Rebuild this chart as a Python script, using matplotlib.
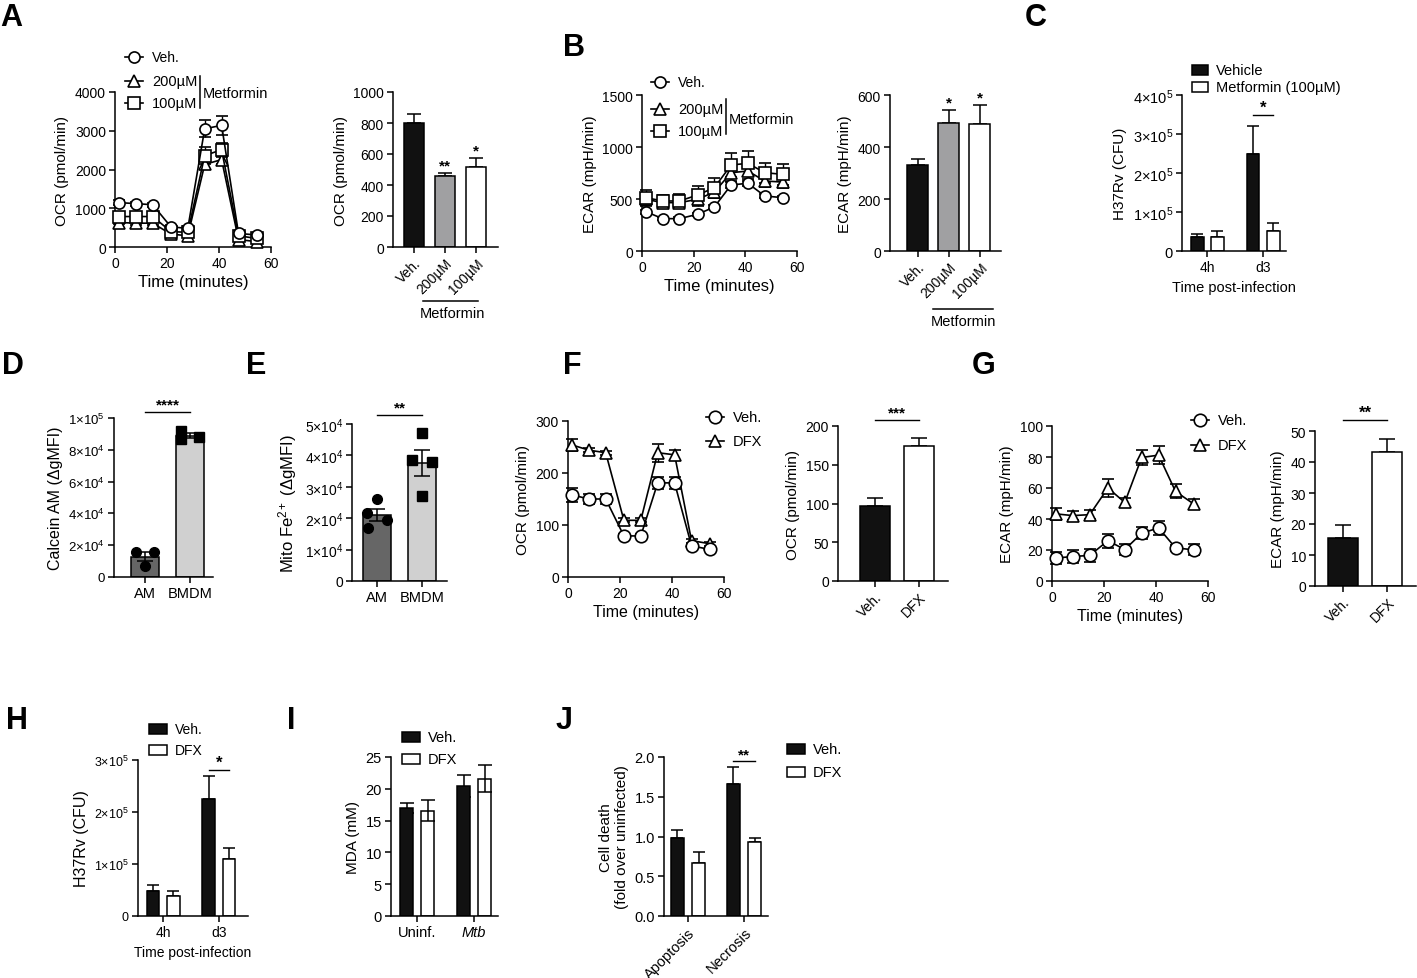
import numpy as np
import matplotlib
matplotlib.use("Agg")
import matplotlib.pyplot as plt
from matplotlib.patches import Rectangle
from matplotlib.ticker import FuncFormatter

plt.rcParams["font.family"] = ["Liberation Sans", "DejaVu Sans"]
plt.rcParams["mathtext.fontset"] = "custom"
plt.rcParams["mathtext.rm"] = "Liberation Sans"
plt.rcParams["mathtext.it"] = "Liberation Sans:italic"
plt.rcParams["axes.linewidth"] = 1.1

W, H = 1417, 979

# ---------------- data ----------------
t_min = [1.5, 8, 14.5, 21.5, 28, 34.5, 41, 47.5, 54.5]

# A - OCR kinetics (Metformin)
ocr_veh = [1145, 1120, 1090, 520, 480, 3050, 3140, 350, 310]
ocr_veh_err = [60, 50, 50, 60, 50, 215, 240, 60, 40]
ocr_200 = [632, 615, 615, 333, 290, 2130, 2256, 190, 140]
ocr_200_err = [50, 40, 40, 40, 40, 120, 110, 40, 30]
ocr_100 = [786, 786, 786, 400, 376, 2360, 2510, 290, 220]
ocr_100_err = [70, 60, 60, 50, 40, 220, 180, 50, 40]
met_labels = ["Veh.", "200µM", "100µM"]
ocr_bar = [800, 455, 515]
ocr_bar_err = [57, 22, 60]

# B - ECAR kinetics (Metformin)
ecar_veh = [378, 311, 311, 353, 423, 635, 651, 529, 513]
ecar_veh_err = [20, 15, 15, 15, 20, 25, 25, 20, 15]
ecar_200 = [497, 465, 465, 497, 567, 753, 769, 673, 663]
ecar_200_err = [60, 50, 55, 60, 60, 80, 80, 60, 55]
ecar_100 = [513, 481, 481, 538, 609, 827, 843, 753, 737]
ecar_100_err = [75, 60, 65, 85, 95, 115, 120, 95, 100]
ecar_bar = [331, 494, 488]
ecar_bar_err = [22, 47, 73]

# C - CFU, Metformin
time_labels = ["4h", "d3"]
cfu_c_vehicle = [36800, 248000]
cfu_c_vehicle_err = [7700, 72600]
cfu_c_met = [35900, 51300]
cfu_c_met_err = [15400, 19700]

# D - Calcein AM
cell_labels = ["AM", "BMDM"]
calcein_am = [15900, 15500, 6900]
calcein_bmdm = [92000, 86500, 88000]

# E - Mito Fe2+
fe_am = [26000, 21700, 19300, 16800]
fe_bmdm = [47100, 38400, 37800, 27200]

# F - OCR, DFX
dfx_labels = ["Veh.", "DFX"]
ocr_f_veh = [158, 150, 150, 79, 79, 181, 181, 60, 53]
ocr_f_veh_err = [13, 10, 10, 4, 4, 12, 11, 4, 3]
ocr_f_dfx = [254, 244, 239, 109, 109, 239, 235, 70, 64]
ocr_f_dfx_err = [12, 4, 4, 4, 4, 17, 10, 4, 4]
ocr_f_bar = [97, 174]
ocr_f_bar_err = [10.5, 10]

# G - ECAR, DFX
ecar_g_veh = [14.8, 15.8, 16.5, 26, 20.3, 30.8, 34.3, 21.4, 20.1]
ecar_g_veh_err = [4, 4, 4, 4.5, 3.5, 4, 4.5, 2, 3.5]
ecar_g_dfx = [43.3, 42.2, 42.8, 60, 50.7, 79.7, 81.2, 57.8, 49.7]
ecar_g_dfx_err = [4, 3, 3, 5.5, 3, 5, 6, 4.5, 3.5]
ecar_g_bar = [15.6, 43.2]
ecar_g_bar_err = [4, 4.1]

# H - CFU, DFX
cfu_h_veh = [48200, 224800]
cfu_h_veh_err = [11500, 43700]
cfu_h_dfx = [38500, 110500]
cfu_h_dfx_err = [9000, 21200]

# I - MDA
mda_labels = ["Uninf.", "Mtb"]
mda_veh = [17.0, 20.4]
mda_veh_err = [0.74, 1.7]
mda_dfx = [16.56, 21.6]
mda_dfx_err = [1.7, 2.1]

# J - cell death
death_labels = ["Apoptosis", "Necrosis"]
death_veh = [0.977, 1.663]
death_veh_err = [0.105, 0.21]
death_dfx = [0.665, 0.935]
death_dfx_err = [0.143, 0.042]

# ---------------- helpers ----------------
fig = plt.figure(figsize=(W / 100, H / 100), dpi=100)


def box(l, t, r, b):
    return fig.add_axes([l / W, 1 - b / H, (r - l) / W, (b - t) / H])


def prism(ax, fs=10):
    for s in ["top", "right"]:
        ax.spines[s].set_visible(False)
    ax.tick_params(direction="out", length=4.5, width=1.1, labelsize=fs, pad=2)


def sci(v, _):
    if v == 0:
        return "0"
    e = int(np.floor(np.log10(v) + 1e-9))
    m = v / 10 ** e
    return f"{m:g}×10$^{{{e}}}$"


def kinetic(ax, series, fs=10, ms=8):
    for y, err, mk in series:
        ax.errorbar(t_min, y, yerr=err, color="k", lw=1.2, marker=mk, ms=ms,
                    mfc="white", mec="k", mew=1.2, capsize=4, capthick=1.0,
                    elinewidth=1.0, clip_on=False, zorder=3)
    ax.set_xlim(0, 60)
    ax.set_xticks([0, 20, 40, 60])
    prism(ax, fs)


def up_err(ax, x, y, e, cap=5):
    ax.errorbar(x, y, yerr=[np.zeros(len(e)), e], fmt="none", ecolor="k",
                elinewidth=1.1, capsize=cap, capthick=1.1, zorder=1)


def sig(ax, x0, x1, y, txt, fs=10, dy=0.0):
    ax.plot([x0, x1], [y, y], color="k", lw=1.0, clip_on=False)
    ax.text((x0 + x1) / 2, y + dy, txt, ha="center", va="bottom",
            fontsize=fs, fontweight="bold")


# ---------------- A ----------------
ax = box(115, 93, 271, 248)
kinetic(ax, [(ocr_200, ocr_200_err, "^"), (ocr_100, ocr_100_err, "s"),
             (ocr_veh, ocr_veh_err, "o")])
ax.set_ylim(0, 4000)
ax.set_yticks(range(0, 4001, 1000))
ax.set_ylabel("OCR (pmol/min)", fontsize=11)
ax.set_xlabel("Time (minutes)", fontsize=12, labelpad=3)

ax = box(393, 93, 498, 248)
x = np.arange(3)
ax.bar(x, ocr_bar, width=0.65, color=["#111111", "#a0a0a2", "white"],
       edgecolor="k", lw=1.1, zorder=2)
up_err(ax, x, ocr_bar, ocr_bar_err)
ax.set_xlim(-0.68, 2.7)
ax.set_ylim(0, 1000)
ax.set_yticks(range(0, 1001, 200))
prism(ax)
ax.set_xticks(x)
ax.set_xticklabels(met_labels, rotation=45, ha="right", rotation_mode="anchor")
ax.set_ylabel("OCR (pmol/min)", fontsize=11)
for i, s in [(1, "**"), (2, "*")]:
    ax.text(x[i], ocr_bar[i] + ocr_bar_err[i] + 5, s, ha="center", va="bottom",
            fontsize=11, fontweight="bold")

# ---------------- B ----------------
ax = box(642, 96, 797, 252)
kinetic(ax, [(ecar_200, ecar_200_err, "^"), (ecar_100, ecar_100_err, "s"),
             (ecar_veh, ecar_veh_err, "o")])
ax.set_ylim(0, 1500)
ax.set_yticks([0, 500, 1000, 1500])
ax.set_ylabel("ECAR (mpH/min)", fontsize=11)
ax.set_xlabel("Time (minutes)", fontsize=12, labelpad=3)

ax = box(890, 96, 1001, 252)
ax.bar(x, ecar_bar, width=0.68, color=["#111111", "#a0a0a2", "white"],
       edgecolor="k", lw=1.1, zorder=2)
up_err(ax, x, ecar_bar, ecar_bar_err)
ax.set_xlim(-0.9, 2.68)
ax.set_ylim(0, 600)
ax.set_yticks(range(0, 601, 200))
prism(ax)
ax.set_xticks(x)
ax.set_xticklabels(met_labels, rotation=45, ha="right", rotation_mode="anchor")
ax.set_ylabel("ECAR (mpH/min)", fontsize=11)
for i in [1, 2]:
    ax.text(x[i], ecar_bar[i] + ecar_bar_err[i] + 3, "*", ha="center",
            va="bottom", fontsize=11, fontweight="bold")

# ---------------- C ----------------
ax = box(1182, 96, 1286, 252)
g = np.arange(2)
off, bw = 0.18, 0.23
ax.bar(g - off, cfu_c_vehicle, width=bw, color="#111111", edgecolor="k", lw=1.1, zorder=2)
ax.bar(g + off, cfu_c_met, width=bw, color="white", edgecolor="k", lw=1.1, zorder=2)
up_err(ax, g - off, cfu_c_vehicle, cfu_c_vehicle_err, cap=4)
up_err(ax, g + off, cfu_c_met, cfu_c_met_err, cap=4)
ax.set_xlim(-0.45, 1.41)
ax.set_ylim(0, 4e5)
ax.set_yticks([0, 1e5, 2e5, 3e5, 4e5])
ax.yaxis.set_major_formatter(FuncFormatter(sci))
prism(ax, 10.5)
ax.set_xticks(g)
ax.set_xticklabels(time_labels, fontsize=10)
ax.set_ylabel("H37Rv (CFU)", fontsize=11)
ax.set_xlabel("Time post-infection", fontsize=10.5, labelpad=4)
sig(ax, 1 - off, 1 + off, 3.49e5, "*", fs=12)

# ---------------- D ----------------
def dot_bar(ax, groups, colors, markers, offs):
    xs = np.arange(len(groups))
    means = [np.mean(v) for v in groups]
    sems = [np.std(v, ddof=1) / np.sqrt(len(v)) for v in groups]
    ax.bar(xs, means, width=0.64, color=colors, edgecolor="k", lw=1.1, zorder=1)
    for xi, v, mk, o in zip(xs, groups, markers, offs):
        ax.plot(xi + np.array(o), v, ls="none", marker=mk, ms=7, color="k",
                zorder=3, clip_on=False)
    ax.errorbar(xs, means, yerr=sems, fmt="none", ecolor="k", elinewidth=1.1,
                capsize=6, capthick=1.1, zorder=4)
    return xs


ax = box(114, 419, 213, 578)
xs = dot_bar(ax, [calcein_am, calcein_bmdm], ["#666666", "#d0d0d0"], ["o", "s"],
             [[-0.2, 0.2, 0.0], [-0.2, -0.2, 0.2]])
ax.set_xlim(-0.69, 1.51)
ax.set_ylim(0, 1e5)
ax.set_yticks(np.arange(0, 1.01e5, 2e4))
ax.yaxis.set_major_formatter(FuncFormatter(sci))
prism(ax, 9.5)
ax.set_xticks(xs)
ax.set_xticklabels(cell_labels, fontsize=10.5)
ax.set_ylabel("Calcein AM (ΔgMFI)", fontsize=11.5)
sig(ax, 0, 1, 1.04e5, "****", fs=11)

# ---------------- E ----------------
ax = box(352, 425, 447, 582)
xs = dot_bar(ax, [fe_am, fe_bmdm], ["#666666", "#d0d0d0"], ["o", "s"],
             [[0.0, -0.22, 0.22, -0.2], [0.0, -0.22, 0.22, 0.0]])
ax.set_xlim(-0.56, 1.56)
ax.set_ylim(0, 5e4)
ax.set_yticks(np.arange(0, 5.01e4, 1e4))
ax.yaxis.set_major_formatter(FuncFormatter(sci))
prism(ax, 10)
ax.set_xticks(xs)
ax.set_xticklabels(cell_labels, fontsize=10.5)
ax.set_ylabel("Mito Fe$^{2+}$ (ΔgMFI)", fontsize=12)
sig(ax, 0, 1, 5.29e4, "**", fs=11)

# ---------------- F ----------------
ax = box(568, 422, 724, 578)
kinetic(ax, [(ocr_f_dfx, ocr_f_dfx_err, "^"), (ocr_f_veh, ocr_f_veh_err, "o")], ms=9)
ax.set_ylim(0, 300)
ax.set_yticks([0, 100, 200, 300])
ax.set_ylabel("OCR (pmol/min)", fontsize=11)
ax.set_xlabel("Time (minutes)", fontsize=11.5, labelpad=3)

ax = box(838, 427, 948, 582)
x2 = np.arange(2)
ax.bar(x2, ocr_f_bar, width=0.68, color=["#111111", "white"], edgecolor="k", lw=1.1, zorder=2)
up_err(ax, x2, ocr_f_bar, ocr_f_bar_err, cap=6)
ax.set_xlim(-0.84, 1.66)
ax.set_ylim(0, 200)
ax.set_yticks([0, 50, 100, 150, 200])
prism(ax)
ax.set_xticks(x2)
ax.set_xticklabels(dfx_labels, rotation=45, ha="right", rotation_mode="anchor")
ax.set_ylabel("OCR (pmol/min)", fontsize=11)
sig(ax, 0, 1, 208, "***", fs=11)

# ---------------- G ----------------
ax = box(1052, 427, 1208, 582)
kinetic(ax, [(ecar_g_dfx, ecar_g_dfx_err, "^"), (ecar_g_veh, ecar_g_veh_err, "o")], ms=9)
ax.set_ylim(0, 100)
ax.set_yticks(range(0, 101, 20))
ax.set_ylabel("ECAR (mpH/min)", fontsize=11)
ax.set_xlabel("Time (minutes)", fontsize=11.5, labelpad=3)

ax = box(1315, 432, 1416, 587)
ax.bar(x2, ecar_g_bar, width=0.67, color=["#111111", "white"], edgecolor="k", lw=1.1, zorder=2)
up_err(ax, x2, ecar_g_bar, ecar_g_bar_err, cap=6)
ax.set_xlim(-0.62, 1.64)
ax.set_ylim(0, 50)
ax.set_yticks(range(0, 51, 10))
prism(ax)
ax.set_xticks(x2)
ax.set_xticklabels(dfx_labels, rotation=45, ha="right", rotation_mode="anchor")
ax.set_ylabel("ECAR (mpH/min)", fontsize=11)
sig(ax, 0, 1, 53.5, "**", fs=12)

# ---------------- H ----------------
ax = box(138, 761, 248, 917)
ax.bar(g - off, cfu_h_veh, width=bw, color="#111111", edgecolor="k", lw=1.1, zorder=2)
ax.bar(g + off, cfu_h_dfx, width=bw, color="white", edgecolor="k", lw=1.1, zorder=2)
up_err(ax, g - off, cfu_h_veh, cfu_h_veh_err, cap=4)
up_err(ax, g + off, cfu_h_dfx, cfu_h_dfx_err, cap=4)
ax.set_xlim(-0.45, 1.52)
ax.set_ylim(0, 3e5)
ax.set_yticks([0, 1e5, 2e5, 3e5])
ax.yaxis.set_major_formatter(FuncFormatter(sci))
prism(ax, 9)
ax.set_xticks(g)
ax.set_xticklabels(time_labels, fontsize=10)
ax.set_ylabel("H37Rv (CFU)", fontsize=11.5)
ax.set_xlabel("Time post-infection", fontsize=10, labelpad=4)
sig(ax, 1 - off, 1 + off, 2.81e5, "*", fs=12)

# ---------------- I ----------------
ax = box(391, 758, 498, 917)
g2 = np.arange(2)
oi = 0.185
ax.bar(g2 - oi, mda_veh, width=bw, color="#111111", edgecolor="k", lw=1.1, zorder=2)
ax.bar(g2 + oi, mda_dfx, width=bw, color="white", edgecolor="k", lw=1.1, zorder=2)
ax.errorbar(g2 - oi, mda_veh, yerr=mda_veh_err, fmt="none", ecolor="k",
            elinewidth=1.1, capsize=5, capthick=1.1, zorder=1)
ax.errorbar(g2 + oi, mda_dfx, yerr=mda_dfx_err, fmt="none", ecolor="k",
            elinewidth=1.1, capsize=5, capthick=1.1, zorder=3)
ax.set_xlim(-0.46, 1.42)
ax.set_ylim(0, 25)
ax.set_yticks(range(0, 26, 5))
prism(ax, 10.5)
ax.set_xticks(g2)
ax.set_xticklabels(mda_labels, fontsize=10.5)
ax.get_xticklabels()[1].set_fontstyle("italic")
ax.set_ylabel("MDA (mM)", fontsize=11)

# ---------------- J ----------------
ax = box(664, 758, 768, 917)
oj = 0.19
ax.bar(g2 - oj, death_veh, width=bw, color="#111111", edgecolor="k", lw=1.1, zorder=2)
ax.bar(g2 + oj, death_dfx, width=bw, color="white", edgecolor="k", lw=1.1, zorder=2)
up_err(ax, g2 - oj, death_veh, death_veh_err, cap=4.5)
up_err(ax, g2 + oj, death_dfx, death_dfx_err, cap=4.5)
ax.set_xlim(-0.43, 1.43)
ax.set_ylim(0, 2.0)
ax.set_yticks([0, 0.5, 1.0, 1.5, 2.0])
ax.yaxis.set_major_formatter(FuncFormatter(lambda v, _: f"{v:.1f}"))
prism(ax, 10.5)
ax.set_xticks(g2)
ax.set_xticklabels(death_labels, rotation=45, ha="right", rotation_mode="anchor")
ax.set_ylabel("Cell death\n(fold over uninfected)", fontsize=11)
sig(ax, 1 - oj, 1 + oj, 1.95, "**", fs=11)

# ---------------- overlay: legends, brackets, letters ----------------
ov = fig.add_axes([0, 0, 1, 1], zorder=10)
ov.set_xlim(0, W)
ov.set_ylim(H, 0)
ov.axis("off")
ov.patch.set_alpha(0)


def key_line(xc, yc, marker, label, fs=10, ms=8):
    ov.plot([xc - 9, xc + 9], [yc, yc], color="k", lw=1.2)
    ov.plot([xc], [yc], marker=marker, ms=ms, mfc="white", mec="k", mew=1.2, ls="none")
    ov.text(xc + 18, yc, label, va="center", ha="left", fontsize=fs)


def key_box(xc, yc, fc, label, fs=10, w=18, h=10):
    ov.add_patch(Rectangle((xc - w / 2, yc - h / 2), w, h, fc=fc, ec="k", lw=1.1))
    ov.text(xc + w / 2 + 8, yc, label, va="center", ha="left", fontsize=fs)


# A legend
key_line(134, 58, "o", "Veh.")
key_line(134, 82, "^", "200µM", fs=10.5)
key_line(134, 104, "s", "100µM", fs=10.5)
ov.plot([200, 200], [77, 109], color="k", lw=1.1)
ov.text(203, 94, "Metformin", va="center", ha="left", fontsize=10.5)
ov.plot([423, 478], [302, 302], color="k", lw=1.1)
ov.text(452, 314, "Metformin", va="center", ha="center", fontsize=10.5)

# B legend
key_line(660, 83, "o", "Veh.")
key_line(660, 110, "^", "200µM", fs=10.5)
key_line(660, 132, "s", "100µM", fs=10.5)
ov.plot([726, 726], [100, 135], color="k", lw=1.1)
ov.text(729, 120, "Metformin", va="center", ha="left", fontsize=10.5)
ov.plot([933, 993], [310, 310], color="k", lw=1.1)
ov.text(963, 322, "Metformin", va="center", ha="center", fontsize=10.5)

# C legend
key_box(1200, 71, "#111111", "Vehicle", fs=10.5, w=16)
key_box(1200, 88, "white", "Metformin (100µM)", fs=10.5, w=16)

# F / G legends
key_line(715, 418, "o", "Veh.", fs=10.5, ms=9)
key_line(715, 442, "^", "DFX", fs=10.5, ms=9)
key_line(1200, 421, "o", "Veh.", fs=10.5, ms=9)
key_line(1200, 446, "^", "DFX", fs=10.5, ms=9)

# H / I / J legends
key_box(158, 730, "#111111", "Veh.", fs=10)
key_box(158, 751, "white", "DFX", fs=10)
key_box(411, 738, "#111111", "Veh.", fs=10.5)
key_box(411, 760, "white", "DFX", fs=10.5)
key_box(796, 750, "#111111", "Veh.", fs=10.5)
key_box(796, 773, "white", "DFX", fs=10.5)

# panel letters
for lt, lx, ly in [("A", 0, 3), ("B", 563, 33), ("C", 1025, 3), ("D", 2, 351),
                   ("E", 246, 351), ("F", 563, 351), ("G", 972, 351),
                   ("H", 6, 706), ("I", 287, 706), ("J", 556, 706)]:
    ov.text(lx, ly, lt, fontsize=22, fontweight="bold", va="top", ha="left")

fig.savefig("out.png", dpi=100)
